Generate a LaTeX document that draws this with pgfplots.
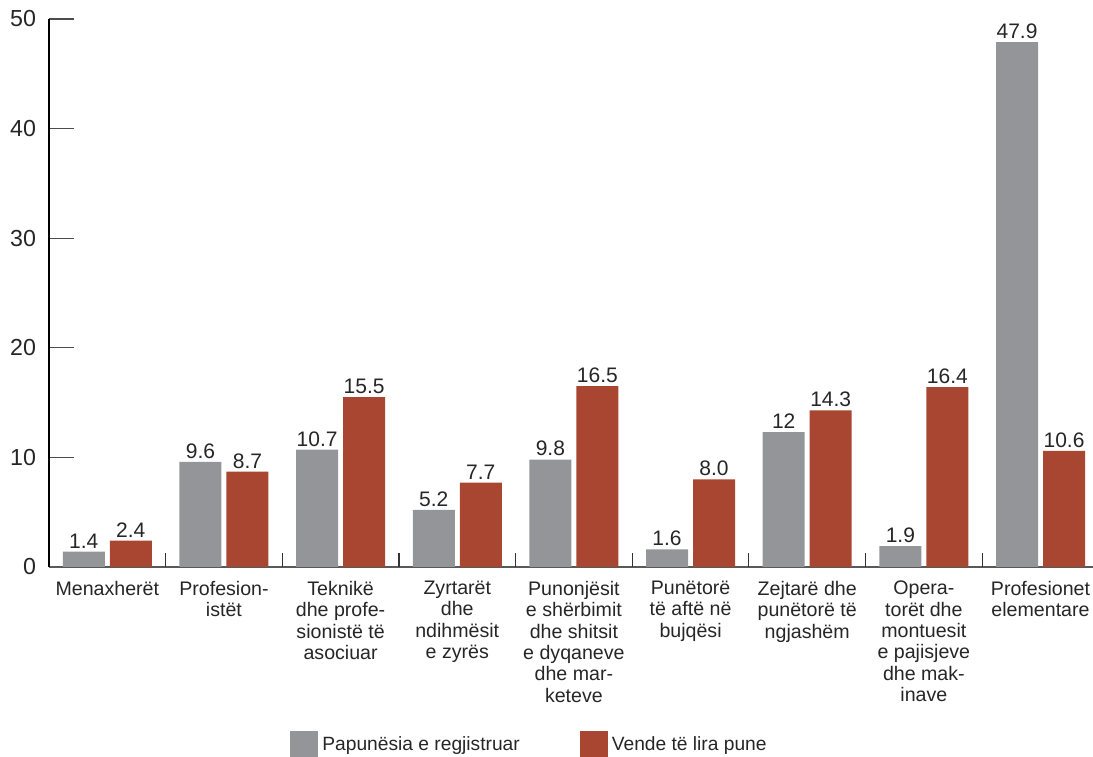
\documentclass[border=0pt]{standalone}
\usepackage{fontspec}
\setmainfont{Liberation Sans}
\usepackage{pgfplots}
\pgfplotsset{compat=1.18}
\definecolor{cgray}{HTML}{939598}
\definecolor{cred}{HTML}{A84631}
\begin{document}
\begin{tikzpicture}
\begin{axis}[
  scale only axis, width=522pt, height=274pt,
  xmin=-0.5, xmax=8.45, ymin=0, ymax=50,
  axis lines*=left,
  axis line style={line width=0.8pt},
  x axis line style={draw=black!65},
  y axis line style={draw=black},
  ytick={0,10,...,50},
  yticklabel style={font=\fontsize{11.6}{13}\selectfont, text=black!85, xshift=-3pt},
  /pgf/number format/assume math mode=true,
  major tick length=12.5pt,
  tick align=inside,
  major y tick style={draw=black!70, line width=0.6pt},
  xtick={0,...,8},
  major x tick style={draw=none},
  xticklabels={
    {Menaxherët},
    {Profesion-\\istët},
    {Teknikë\\dhe profe-\\sionistë të\\asociuar},
    {Zyrtarët\\dhe\\ndihmësit\\e zyrës},
    {Punonjësit\\e shërbimit\\dhe shitsit\\e dyqaneve\\dhe mar-\\keteve},
    {Punëtorë\\të aftë në\\bujqësi},
    {Zejtarë dhe\\punëtorë të\\ngjashëm},
    {Opera-\\torët dhe\\montuesit\\e pajisjeve\\dhe mak-\\inave},
    {Profesionet\\elementare}},
  xticklabel style={align=center, font=\fontsize{9.8}{10.7}\selectfont, text=black!85, anchor=north, yshift=-3.5pt},
  legend style={at={(0.2251,-0.3248)}, anchor=west, draw=none, fill=none,
    legend columns=2, font=\fontsize{9.6}{11}\selectfont, text=black!85,
    /tikz/every even column/.style={column sep=28pt}},
  legend image code/.code={\fill[#1] (0pt,-7pt) rectangle (14pt,7pt);},
  clip=false,
]
\addplot[ybar, bar width=21pt, fill=cgray, draw=none, bar shift=-11.75pt,
  nodes near coords={\pgfplotspointmeta}, point meta=explicit symbolic,
  nodes near coords style={font=\fontsize{10.5}{12}\selectfont, anchor=south, inner sep=1.5pt, text=black!85, xshift=-11.75pt}]
  coordinates {
  (0,1.4)[1.4] (1,9.6)[9.6] (2,10.7)[10.7] (3,5.2)[5.2] (4,9.8)[9.8]
  (5,1.6)[1.6] (6,12.3)[12] (7,1.9)[1.9] (8,47.9)[47.9]};
\addlegendentry{Papunësia e regjistruar}
\addplot[ybar, bar width=21pt, fill=cred, draw=none, bar shift=11.75pt,
  nodes near coords={\pgfplotspointmeta}, point meta=explicit symbolic,
  nodes near coords style={font=\fontsize{10.5}{12}\selectfont, anchor=south, inner sep=1.5pt, text=black!85, xshift=11.75pt}]
  coordinates {
  (0,2.4)[2.4] (1,8.7)[8.7] (2,15.5)[15.5] (3,7.7)[7.7] (4,16.5)[16.5]
  (5,8.0)[8.0] (6,14.3)[14.3] (7,16.4)[16.4] (8,10.6)[10.6]};
\addlegendentry{Vende të lira pune}
\addplot[ycomb, no markers, draw=black!80, line width=0.6pt, forget plot] coordinates {
  (0.5,1.28) (1.5,1.28) (2.5,1.28) (3.5,1.28) (4.5,1.28) (5.5,1.28) (6.5,1.28) (7.5,1.28)};
\end{axis}
\pgfresetboundingbox
\path[use as bounding box] ([xshift=-24.5pt,yshift=-95pt]current axis.south west) rectangle ([yshift=9.5pt]current axis.north east);
\end{tikzpicture}
\end{document}
